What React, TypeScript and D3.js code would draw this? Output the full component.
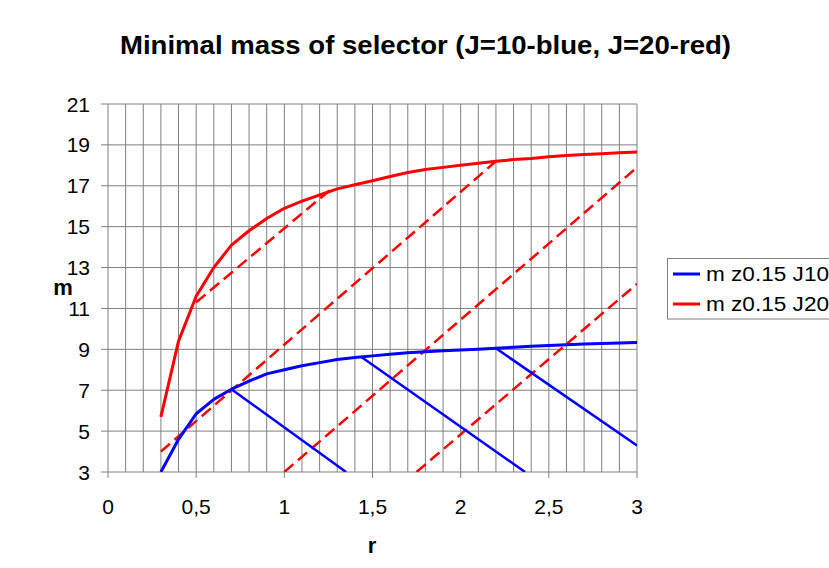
import React from "react";
import * as d3 from "d3";

const rValues = [0.3, 0.4, 0.5, 0.6, 0.7, 0.8, 0.9, 1.0, 1.1, 1.2, 1.3, 1.4, 1.5, 1.6, 1.7, 1.8, 1.9, 2.0, 2.1, 2.2, 2.3, 2.4, 2.5, 2.6, 2.7, 2.8, 2.9, 3.0];
const mJ10 = [3.0, 4.6, 5.85, 6.55, 7.05, 7.45, 7.8, 8.0, 8.2, 8.35, 8.5, 8.6, 8.68, 8.76, 8.83, 8.88, 8.93, 8.97, 9.01, 9.05, 9.1, 9.15, 9.19, 9.23, 9.26, 9.29, 9.31, 9.33];
const mJ20 = [5.7, 9.4, 11.6, 13.0, 14.1, 14.8, 15.4, 15.9, 16.25, 16.55, 16.85, 17.05, 17.25, 17.45, 17.65, 17.8, 17.9, 18.0, 18.1, 18.2, 18.28, 18.34, 18.42, 18.48, 18.53, 18.57, 18.61, 18.65];

// auxiliary straight lines [r, m]
const blueLines: [number, number][][] = [
  [[0.7, 7.05], [1.35, 3.0]],
  [[1.435, 8.64], [2.365, 3.0]],
  [[2.2, 9.05], [3.0, 4.3]],
];
const redDashedLines: [number, number][][] = [
  [[0.3, 4.0], [2.2, 18.2]],
  [[0.5, 11.3], [1.26, 16.8]],
  [[1.0, 3.0], [3.0, 17.9]],
  [[1.75, 3.0], [3.0, 12.2]],
];

const xMajorTicks = [0, 0.5, 1, 1.5, 2, 2.5, 3];
const xGridTicks = [0.1, 0.2, 0.3, 0.4, 0.5, 0.6, 0.7, 0.8, 0.9, 1.0, 1.1, 1.2, 1.3, 1.4, 1.5, 1.6, 1.7, 1.8, 1.9, 2.0, 2.1, 2.2, 2.3, 2.4, 2.5, 2.6, 2.7, 2.8, 2.9, 3.0];
const yTicks = [3, 5, 7, 9, 11, 13, 15, 17, 19, 21];

const seriesNames = ["m z0.15 J10", "m z0.15 J20"];
const seriesColors = ["#0000FF", "#FF0000"];

const W = 829;
const H = 568;
const plot = { left: 108, right: 637, top: 104, bottom: 472 };

export default function App() {
  const x = d3.scaleLinear().domain([0, 3]).range([plot.left, plot.right]);
  const y = d3.scaleLinear().domain([3, 21]).range([plot.bottom, plot.top]);
  const line = d3
    .line<[number, number]>()
    .x((d) => x(d[0]))
    .y((d) => y(d[1]));
  const blueCurve = rValues.map((r, i) => [r, mJ10[i]] as [number, number]);
  const redCurve = rValues.map((r, i) => [r, mJ20[i]] as [number, number]);
  const fmt = (v: number) => String(v).replace(".", ",");
  const grid = "#808080";
  const font = "Arial, 'Liberation Sans', sans-serif";

  return (
    <svg
      width={W}
      height={H}
      style={{ position: "absolute", left: 0, top: 0, background: "#fff" }}
      fontFamily={font}
    >
      <defs>
        <clipPath id="plotClip">
          <rect x={plot.left} y={plot.top} width={plot.right - plot.left} height={plot.bottom - plot.top} />
        </clipPath>
      </defs>
      <rect x={0} y={0} width={W} height={H} fill="#fff" />
      <text
        x={120}
        y={54}
        fontSize={25}
        fontWeight="bold"
        fill="#000"
        textLength={611}
        lengthAdjust="spacingAndGlyphs"
      >
        Minimal mass of selector (J=10-blue, J=20-red)
      </text>

      {/* grid */}
      {xGridTicks.map((t) => (
        <line key={"vx" + t} x1={x(t)} x2={x(t)} y1={plot.top} y2={plot.bottom} stroke={grid} strokeWidth={1} />
      ))}
      {yTicks.map((t) => (
        <line key={"hy" + t} x1={plot.left - 7} x2={plot.right} y1={y(t)} y2={y(t)} stroke={grid} strokeWidth={1} />
      ))}
      {/* axes */}
      <line x1={plot.left} x2={plot.left} y1={plot.top} y2={plot.bottom} stroke={grid} strokeWidth={1} />
      {xMajorTicks.map((t) => (
        <line key={"tx" + t} x1={x(t)} x2={x(t)} y1={plot.bottom} y2={plot.bottom + 6} stroke={grid} strokeWidth={1} />
      ))}

      {/* tick labels */}
      {yTicks.map((t) => (
        <text key={"ly" + t} x={90} y={y(t) + 7.5} textAnchor="end" fontSize={21} fill="#000">
          {t}
        </text>
      ))}
      {xMajorTicks.map((t) => (
        <text key={"lx" + t} x={x(t)} y={514} textAnchor="middle" fontSize={21} fill="#000">
          {fmt(t)}
        </text>
      ))}
      <text x={372} y={553} textAnchor="middle" fontSize={22} fontWeight="bold">r</text>
      <text x={63} y={295} textAnchor="middle" fontSize={22} fontWeight="bold">m</text>

      <g clipPath="url(#plotClip)">
        {redDashedLines.map((l, i) => (
          <path key={"rd" + i} d={line(l) || ""} fill="none" stroke="#FF0000" strokeWidth={2.5} strokeDasharray="12,6" />
        ))}
        {blueLines.map((l, i) => (
          <path key={"bl" + i} d={line(l) || ""} fill="none" stroke="#0000FF" strokeWidth={2.5} />
        ))}
        <path d={line(redCurve) || ""} fill="none" stroke="#FF0000" strokeWidth={3} strokeLinejoin="round" />
        <path d={line(blueCurve) || ""} fill="none" stroke="#0000FF" strokeWidth={3} strokeLinejoin="round" />
      </g>

      {/* legend */}
      <rect x={667.5} y={258.5} width={180} height={60.5} fill="#fff" stroke={grid} strokeWidth={1} />
      {seriesNames.map((n, i) => (
        <g key={n}>
          <line x1={673} x2={700} y1={274 + i * 30} y2={274 + i * 30} stroke={seriesColors[i]} strokeWidth={3} />
          <text
            x={706}
            y={281 + i * 30}
            fontSize={20}
            fill="#000"
            textLength={123}
            lengthAdjust="spacingAndGlyphs"
          >
            {n}
          </text>
        </g>
      ))}
    </svg>
  );
}
